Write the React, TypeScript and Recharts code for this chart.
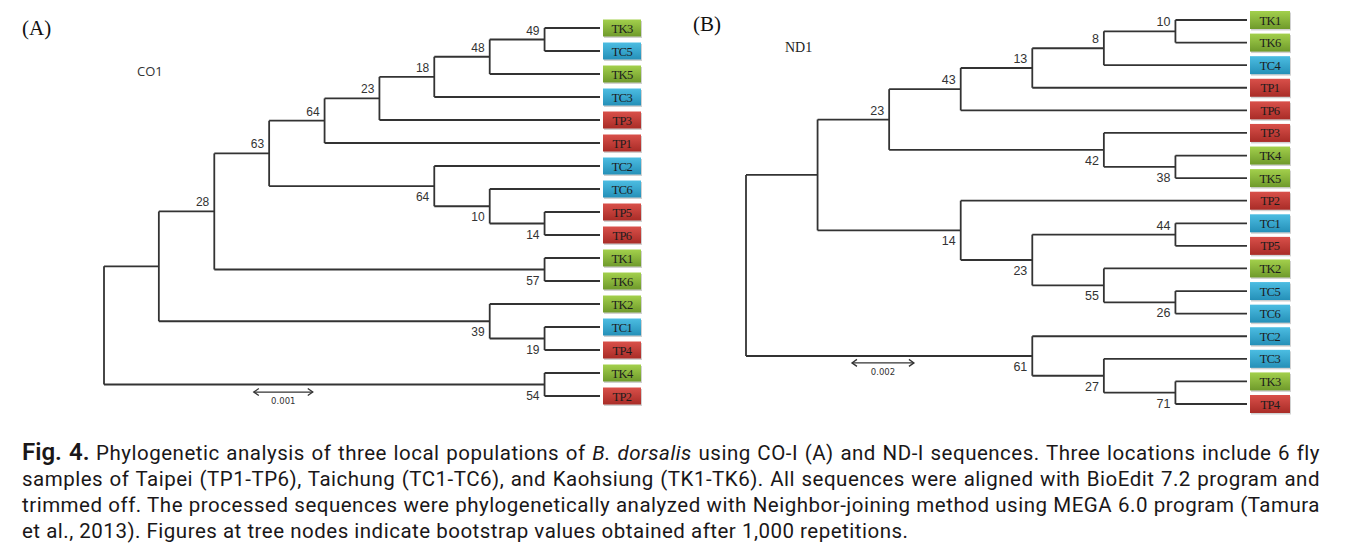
import React from 'react';
import { ScatterChart, XAxis, YAxis, Scatter, ReferenceLine } from 'recharts';

type Clade = { id: string; depth: number; boot: number | null; kids: string[] };

// (A) CO1 tree, depths in units of 0.001 substitutions/site
const coLeaves = ['TK3', 'TC5', 'TK5', 'TC3', 'TP3', 'TP1', 'TC2', 'TC6', 'TP5', 'TP6', 'TK1', 'TK6', 'TK2', 'TC1', 'TP4', 'TK4', 'TP2'];
const coTipDepth = 8.41;
const coClades: Clade[] = [
  { id: 'root', depth: 0, boot: null, kids: ['a1', 'a54'] },
  { id: 'a1', depth: 0.93, boot: null, kids: ['a28', 'a39'] },
  { id: 'a28', depth: 1.87, boot: 28, kids: ['a63', 'a57'] },
  { id: 'a63', depth: 2.8, boot: 63, kids: ['a64', 'a64b'] },
  { id: 'a64', depth: 3.74, boot: 64, kids: ['a23', 'TP1'] },
  { id: 'a23', depth: 4.67, boot: 23, kids: ['a18', 'TP3'] },
  { id: 'a18', depth: 5.6, boot: 18, kids: ['a48', 'TC3'] },
  { id: 'a48', depth: 6.54, boot: 48, kids: ['a49', 'TK5'] },
  { id: 'a49', depth: 7.47, boot: 49, kids: ['TK3', 'TC5'] },
  { id: 'a64b', depth: 5.6, boot: 64, kids: ['TC2', 'a10'] },
  { id: 'a10', depth: 6.54, boot: 10, kids: ['TC6', 'a14'] },
  { id: 'a14', depth: 7.47, boot: 14, kids: ['TP5', 'TP6'] },
  { id: 'a57', depth: 7.47, boot: 57, kids: ['TK1', 'TK6'] },
  { id: 'a39', depth: 6.54, boot: 39, kids: ['TK2', 'a19'] },
  { id: 'a19', depth: 7.47, boot: 19, kids: ['TC1', 'TP4'] },
  { id: 'a54', depth: 7.47, boot: 54, kids: ['TK4', 'TP2'] },
];
const coScale = { from: 2.54, len: 1, y: 15.83, label: '0.001' };

// (B) ND1 tree
const ndLeaves = ['TK1', 'TK6', 'TC4', 'TP1', 'TP6', 'TP3', 'TK4', 'TK5', 'TP2', 'TC1', 'TP5', 'TK2', 'TC5', 'TC6', 'TC2', 'TC3', 'TK3', 'TP4'];
const ndTipDepth = 16.17;
const ndClades: Clade[] = [
  { id: 'root', depth: 0, boot: null, kids: ['b1', 'b61'] },
  { id: 'b1', depth: 2.31, boot: null, kids: ['b23', 'b14'] },
  { id: 'b23', depth: 4.62, boot: 23, kids: ['b43', 'b42'] },
  { id: 'b43', depth: 6.93, boot: 43, kids: ['b13', 'TP6'] },
  { id: 'b13', depth: 9.24, boot: 13, kids: ['b8', 'TP1'] },
  { id: 'b8', depth: 11.55, boot: 8, kids: ['b10', 'TC4'] },
  { id: 'b10', depth: 13.86, boot: 10, kids: ['TK1', 'TK6'] },
  { id: 'b42', depth: 11.55, boot: 42, kids: ['TP3', 'b38'] },
  { id: 'b38', depth: 13.86, boot: 38, kids: ['TK4', 'TK5'] },
  { id: 'b14', depth: 6.93, boot: 14, kids: ['TP2', 'b23b'] },
  { id: 'b23b', depth: 9.24, boot: 23, kids: ['b44', 'b55'] },
  { id: 'b44', depth: 13.86, boot: 44, kids: ['TC1', 'TP5'] },
  { id: 'b55', depth: 11.55, boot: 55, kids: ['TK2', 'b26'] },
  { id: 'b26', depth: 13.86, boot: 26, kids: ['TC5', 'TC6'] },
  { id: 'b61', depth: 9.24, boot: 61, kids: ['TC2', 'b27'] },
  { id: 'b27', depth: 11.55, boot: 27, kids: ['TC3', 'b71'] },
  { id: 'b71', depth: 13.86, boot: 71, kids: ['TK3', 'TP4'] },
];
const ndScale = { from: 3.42, len: 2, y: 15.18, label: '0.002' };

const popColors: Record<string, { top: string; bottom: string }> = {
  TK: { top: '#a3d04c', bottom: '#6f9a2b' },
  TC: { top: '#4cbde2', bottom: '#2590b8' },
  TP: { top: '#d9504a', bottom: '#a92c27' },
};

const LINE = '#333';

function layoutTree(leaves: string[], clades: Clade[], tipDepth: number) {
  const byId = new Map(clades.map((c) => [c.id, c]));
  const yOf = (id: string): number => {
    const i = leaves.indexOf(id);
    if (i >= 0) return i;
    const c = byId.get(id)!;
    return (yOf(c.kids[0]) + yOf(c.kids[c.kids.length - 1])) / 2;
  };
  const depthOf = (id: string) => (leaves.includes(id) ? tipDepth : byId.get(id)!.depth);
  const segments: { x: number; y: number }[][] = [];
  const labels: { x: number; y: number; boot: number; above: boolean }[] = [];
  clades.forEach((c) => {
    const ys = c.kids.map(yOf);
    segments.push([{ x: c.depth, y: ys[0] }, { x: c.depth, y: ys[ys.length - 1] }]);
    c.kids.forEach((k, i) => segments.push([{ x: c.depth, y: ys[i] }, { x: depthOf(k), y: ys[i] }]));
    if (c.boot !== null) {
      const parent = clades.find((p) => p.kids.includes(c.id));
      labels.push({ x: c.depth, y: yOf(c.id), boot: c.boot, above: !!parent && parent.kids[0] === c.id });
    }
  });
  const tips = leaves.map((name, i) => ({ x: tipDepth, y: i, name }));
  return { segments, labels, tips };
}

type TreeProps = {
  tag: string;
  leaves: string[];
  clades: Clade[];
  tipDepth: number;
  scale: { from: number; len: number; y: number; label: string };
  margin: { top: number; right: number; bottom: number; left: number };
  boxW: number;
  boxH: number;
  labelSize: number;
};

const Tree = ({ tag, leaves, clades, tipDepth, scale, margin, boxW, boxH, labelSize }: TreeProps) => {
  const { segments, labels, tips } = layoutTree(leaves, clades, tipDepth);
  const scaleEnds = [
    { x: scale.from, y: scale.y, dir: -1 },
    { x: scale.from + scale.len, y: scale.y, dir: 1 },
  ];
  const scaleMid = [{ x: scale.from + scale.len / 2, y: scale.y }];

  const BootLabel = (p: any) => (
    <text
      x={p.cx - 5}
      y={p.payload.above ? p.cy - 5 : p.cy + 15}
      textAnchor="end"
      fontFamily="'Liberation Sans', Arial, sans-serif"
      fontSize={labelSize}
      fill="#333"
    >
      {p.payload.boot}
    </text>
  );

  const LeafBox = (p: any) => {
    const name: string = p.payload.name;
    const c = popColors[name.slice(0, 2)];
    const gid = `grad-${tag}-${name}`;
    const x0 = p.cx + 3;
    const y0 = p.cy - boxH / 2;
    return (
      <g>
        <defs>
          <linearGradient id={gid} x1="0" y1="0" x2="0" y2="1">
            <stop offset="0" stopColor={c.top} />
            <stop offset="1" stopColor={c.bottom} />
          </linearGradient>
        </defs>
        <rect x={x0 + 1} y={y0 + 1.5} width={boxW} height={boxH} fill="rgba(0,0,0,0.18)" />
        <rect x={x0} y={y0} width={boxW} height={boxH} fill={`url(#${gid})`} />
        <text
          x={x0 + boxW / 2}
          y={p.cy + 4.5}
          textAnchor="middle"
          fontFamily="'Liberation Serif', 'Times New Roman', serif"
          fontSize={12.5}
          letterSpacing={-0.6}
          fill="#1c1c1c"
        >
          {name}
        </text>
      </g>
    );
  };

  const Chevron = (p: any) => {
    const d = p.payload.dir;
    return (
      <polyline
        points={`${p.cx - d * 5},${p.cy - 3.5} ${p.cx},${p.cy} ${p.cx - d * 5},${p.cy + 3.5}`}
        fill="none"
        stroke={LINE}
        strokeWidth={1.3}
      />
    );
  };

  const ScaleText = (p: any) => (
    <text x={p.cx} y={p.cy + 12} textAnchor="middle" fontFamily="'DejaVu Sans', sans-serif" fontSize={8.5} fill="#333">
      {scale.label}
    </text>
  );

  return (
    <ScatterChart width={680} height={420} margin={margin}>
      <XAxis type="number" dataKey="x" domain={[0, tipDepth]} hide />
      <YAxis type="number" dataKey="y" domain={[0, leaves.length - 1]} reversed hide />
      {segments.map((s, i) => (
        <ReferenceLine key={`s${i}`} segment={s} stroke={LINE} strokeWidth={1.8} ifOverflow="visible" />
      ))}
      <ReferenceLine
        segment={[{ x: scale.from, y: scale.y }, { x: scale.from + scale.len, y: scale.y }]}
        stroke={LINE}
        strokeWidth={1.3}
        ifOverflow="visible"
      />
      <Scatter data={labels} shape={BootLabel} isAnimationActive={false} />
      <Scatter data={tips} shape={LeafBox} isAnimationActive={false} />
      <Scatter data={scaleEnds} shape={Chevron} isAnimationActive={false} />
      <Scatter data={scaleMid} shape={ScaleText} isAnimationActive={false} />
    </ScatterChart>
  );
};

const abs = (left: number, top: number): React.CSSProperties => ({ position: 'absolute', left, top });

const captionLine: React.CSSProperties = {
  textAlign: 'justify',
  textAlignLast: 'justify',
  whiteSpace: 'normal',
};

const App = () => (
  <div style={{ position: 'absolute', left: 0, top: 0, width: 1360, height: 552, background: '#fff', overflow: 'hidden' }}>
    <div style={abs(0, 0)}>
      <Tree
        tag="co"
        leaves={coLeaves}
        clades={coClades}
        tipDepth={coTipDepth}
        scale={coScale}
        margin={{ top: 28, right: 80, bottom: 24, left: 104 }}
        boxW={38}
        boxH={17}
        labelSize={12}
      />
    </div>
    <div style={abs(680, 0)}>
      <Tree
        tag="nd"
        leaves={ndLeaves}
        clades={ndClades}
        tipDepth={ndTipDepth}
        scale={ndScale}
        margin={{ top: 20, right: 113, bottom: 16, left: 66 }}
        boxW={40}
        boxH={18}
        labelSize={12.5}
      />
    </div>
    <div style={{ ...abs(22, 16), fontFamily: "'Liberation Serif', serif", fontSize: 21, lineHeight: '24px', color: '#111' }}>(A)</div>
    <div style={{ ...abs(137, 62), fontFamily: "'Open Sans', sans-serif", fontSize: 13, lineHeight: '18px', color: '#333' }}>CO1</div>
    <div style={{ ...abs(693, 12), fontFamily: "'Liberation Serif', serif", fontSize: 21, lineHeight: '24px', color: '#111' }}>(B)</div>
    <div style={{ ...abs(785, 39), fontFamily: "'Liberation Serif', serif", fontSize: 14, lineHeight: '18px', color: '#222' }}>ND1</div>
    <div
      style={{
        ...abs(22, 439),
        width: 1298,
        fontFamily: 'Roboto, sans-serif',
        fontSize: 20.5,
        letterSpacing: 0.5,
        lineHeight: '26px',
        color: '#1a1718',
      }}
    >
      <div style={captionLine}>
        <span style={{ fontWeight: 600, fontSize: 24, letterSpacing: 0 }}>Fig. 4.</span> Phylogenetic analysis of three local populations of{' '}
        <i>B. dorsalis</i> using CO-I (A) and ND-I sequences. Three locations include 6 fly
      </div>
      <div style={captionLine}>
        samples of Taipei (TP1-TP6), Taichung (TC1-TC6), and Kaohsiung (TK1-TK6). All sequences were aligned with BioEdit 7.2 program and
      </div>
      <div style={captionLine}>
        trimmed off. The processed sequences were phylogenetically analyzed with Neighbor-joining method using MEGA 6.0 program (Tamura
      </div>
      <div>et al., 2013). Figures at tree nodes indicate bootstrap values obtained after 1,000 repetitions.</div>
    </div>
  </div>
);

export default App;
